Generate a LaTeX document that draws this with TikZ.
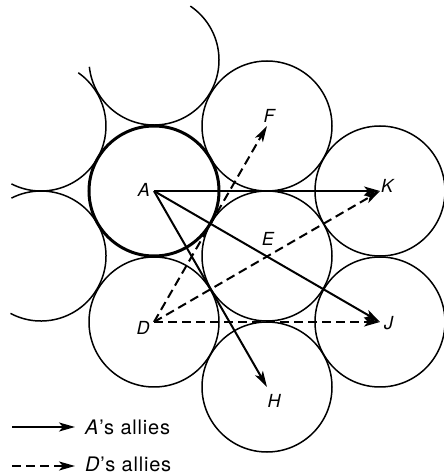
\documentclass[tikz,border=0pt]{standalone}
\usepackage{fontspec}
\setmainfont{TeX Gyre Heros}
\usetikzlibrary{arrows.meta,calc}
\newcommand{\partdisc}[3]{% arc of a cut-off disc round (#1), from angle #2 to #3
  \draw[cell] ($(#1)+(#2:65pt)$) arc[start angle=#2, end angle=#3, radius=65pt];
}

\begin{document}
\begin{tikzpicture}[x=1pt,y=1pt,
  cell/.style={line width=1.5pt},
  ally/.style={line width=2pt, -{Stealth[length=16pt,width=9pt,inset=4pt]}},
  dally/.style={ally, dash pattern=on 9pt off 5pt},
  tag/.style={font=\fontsize{18}{21}\selectfont\itshape, inner sep=0pt},
  key/.style={font=\fontsize{20}{23}\selectfont\addfontfeature{LetterSpace=4}, inner sep=0pt, anchor=base west}]
  \useasboundingbox (0,0) rectangle (444,475);
  % disc centres
  \coordinate (A) at (154,284);
  \coordinate (D) at (154,153);
  \coordinate (T) at (154,415);
  \coordinate (F) at (267,349);
  \coordinate (E) at (267,219);
  \coordinate (H) at (267,88);
  \coordinate (K) at (380,284);
  \coordinate (J) at (380,153);
  \coordinate (L1) at (41,349);
  \coordinate (L2) at (41,219);
  % whole discs
  \foreach \c in {D,F,E,H,K,J} \draw[cell] (\c) circle (65pt);
  \draw[line width=3pt] (A) circle (65pt);
  % discs cut off at the edges
  \partdisc{T}{186}{416}
  \partdisc{L1}{-117}{55}
  \partdisc{L2}{-118}{117}
  % allies
  \draw[ally] (A) -- (K);
  \draw[ally] (A) -- (J);
  \draw[ally] (A) -- (H);
  \draw[dally] (D) -- (F);
  \draw[dally] (D) -- (K);
  \draw[dally] (D) -- (J);
  % letters
  \node[tag] (lA) at ($(A)+(-10,1)$) {A};
  \node[tag] (lD) at ($(D)+(-11,-6)$) {D};
  \node[tag] (lF) at ($(F)+(2,10)$) {F};
  \node[tag] (lE) at ($(E)+(1,17)$) {E};
  \node[tag] (lH) at ($(H)+(7,-14)$) {H};
  \node[tag, anchor=west] (lK) at ($(K)+(1,5)$) {K};
  \node[tag, anchor=west] (lJ) at ($(J)+(4,-1)$) {J};
  % key
  \coordinate (s1) at (12,48);
  \coordinate (e1) at (75,48);
  \coordinate (s2) at (12,9);
  \coordinate (e2) at (75,9);
  \draw[ally] (s1) -- (e1);
  \draw[dally] (s2) -- (e2);
  \node[key] (k1) at (85,41) {\textit{A}’s allies};
  \node[key] (k2) at (85,3) {\textit{D}’s allies};
\end{tikzpicture}
\end{document}
